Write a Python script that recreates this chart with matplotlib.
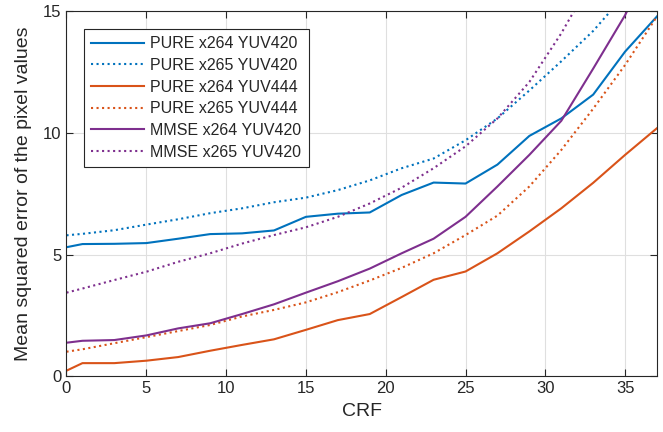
import numpy as np
from matplotlib import pyplot as plt

# CRF values where the curves were sampled
crf = [0, 1, 3, 5, 7, 9, 11, 13, 15, 17, 19, 21, 23, 25, 27, 29, 31, 33, 35, 37]

pure_x264_420 = [5.30, 5.43, 5.44, 5.47, 5.65, 5.84, 5.87, 5.99, 6.55, 6.68,
                 6.73, 7.45, 7.96, 7.92, 8.70, 9.88, 10.60, 11.58, 13.35, 14.80]
pure_x265_420 = [5.79, 5.85, 6.00, 6.23, 6.45, 6.70, 6.90, 7.15, 7.34, 7.65,
                 8.05, 8.55, 8.95, 9.70, 10.60, 11.75, 12.95, 14.20, 15.70, 17.30]
pure_x264_444 = [0.22, 0.53, 0.53, 0.63, 0.78, 1.04, 1.28, 1.51, 1.90, 2.30,
                 2.55, 3.25, 3.96, 4.30, 5.05, 5.95, 6.90, 7.95, 9.10, 10.20]
pure_x265_444 = [1.00, 1.10, 1.35, 1.60, 1.85, 2.10, 2.45, 2.72, 3.03, 3.45,
                 3.93, 4.45, 5.05, 5.80, 6.60, 7.80, 9.30, 11.00, 12.80, 14.80]
mmse_x264_420 = [1.37, 1.45, 1.48, 1.67, 1.96, 2.17, 2.55, 2.95, 3.43, 3.90,
                 4.42, 5.05, 5.65, 6.55, 7.80, 9.10, 10.50, 12.65, 14.85, 17.50]
mmse_x265_420 = [3.43, 3.60, 3.95, 4.29, 4.70, 5.05, 5.45, 5.80, 6.12, 6.55,
                 7.10, 7.75, 8.55, 9.45, 10.60, 12.10, 14.10, 16.40, 19.00, 22.00]

labels = ['PURE x264 YUV420', 'PURE x265 YUV420', 'PURE x264 YUV444',
          'PURE x265 YUV444', 'MMSE x264 YUV420', 'MMSE x265 YUV420']

# matlab default colours
blue, orange, purple = '#0072BD', '#D95319', '#7E2F8E'
txt = '#262626'

plt.rcParams['font.family'] = ['Liberation Sans', 'DejaVu Sans']

fig = plt.figure(figsize=(6.63, 4.32), dpi=100)
ax = fig.add_axes([0.1003, 0.1296, 0.8907, 0.8438])

series = [pure_x264_420, pure_x265_420, pure_x264_444,
          pure_x265_444, mmse_x264_420, mmse_x265_420]
colors = [blue, blue, orange, orange, purple, purple]
styles = ['-', ':', '-', ':', '-', ':']
for y, c, ls, lab in zip(series, colors, styles, labels):
    ax.plot(crf, y, color=c, ls=ls, lw=1.5, label=lab)

ax.set_xlim(0, 37)
ax.set_ylim(0, 15)
ax.set_xticks(np.arange(0, 36, 5))
ax.set_yticks([0, 5, 10, 15])
ax.grid(True, color='#dfdfdf', lw=0.8)
ax.set_axisbelow(True)
ax.tick_params(direction='in', top=True, right=True, length=5,
               labelsize=12, colors=txt, width=0.8)
for s in ax.spines.values():
    s.set_color(txt)
    s.set_linewidth(0.8)

ax.set_xlabel('CRF', fontsize=14, color=txt, labelpad=5)
ax.set_ylabel('Mean squared error of the pixel values', fontsize=14,
              color=txt, labelpad=8)

leg = ax.legend(loc='upper left', bbox_to_anchor=(0.0296, 0.952), fontsize=11.5,
                fancybox=False, framealpha=1, edgecolor=txt,
                borderaxespad=0, handlelength=3.3, handletextpad=0.4,
                labelspacing=0.42, borderpad=0.45)
leg.get_frame().set_linewidth(0.8)
for t in leg.get_texts():
    t.set_color(txt)

plt.savefig('out.png', dpi=100)
